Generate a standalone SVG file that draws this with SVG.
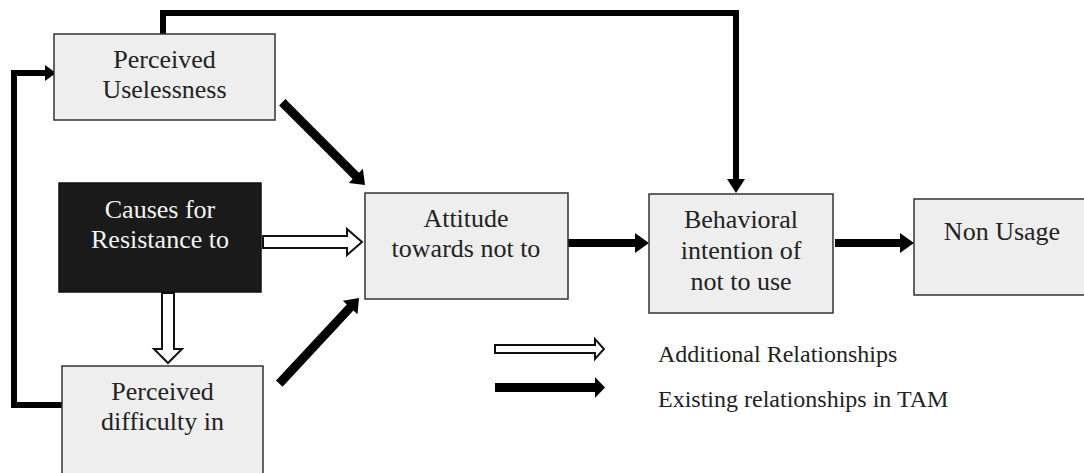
<svg xmlns="http://www.w3.org/2000/svg" width="1084" height="473" viewBox="0 0 1084 473">
<style>
.box{fill:#eeeeee;stroke:#333;stroke-width:1.5}
.dark{fill:#1a1a1a;stroke:#111;stroke-width:1.5}
text{font-family:'Liberation Serif','Times New Roman','DejaVu Serif',serif}
.t{font-size:26px;fill:#222;text-anchor:middle}
.tw{fill:#f4f4f4}
.lg{font-size:24px;fill:#222}
.line{fill:none;stroke:#000;stroke-width:6;stroke-linejoin:miter}
.solid{fill:#000;stroke:none}
.hollow{fill:#fff;stroke:#111;stroke-width:2;stroke-linejoin:miter}
</style>
<rect width="1084" height="473" fill="#fff"/>
<g id="connectors">
  <path class="line" d="M163,34 V13 H736 V180"/>
  <polygon class="solid" points="727,179 745,179 736,193"/>
  <path class="line" d="M62,405 H14 V73 H46"/>
  <polygon class="solid" points="45,65 56,73 45,81"/>
  <g transform="translate(365,185) rotate(45)"><polygon class="solid" points="-117,-4.5 -13,-4.5 -13,-10 0,0 -13,10 -13,4.5 -117,4.5"/></g>
  <g transform="translate(359,298) rotate(-47.06)"><polygon class="solid" points="-117,-4.5 -13,-4.5 -13,-10 0,0 -13,10 -13,4.5 -117,4.5"/></g>
  <polygon class="solid" points="566,239 635,239 635,233 649,243 635,253 635,247 566,247"/>
  <polygon class="solid" points="835,239 900,239 900,233 914,243 900,253 900,247 835,247"/>
  <polygon class="hollow" points="263,236 347,236 347,229 362,242 347,255 347,248 263,248"/>
  <polygon class="hollow" points="162,293 174,293 174,349 182,349 168,363 154,349 162,349"/>
  <polygon class="hollow" points="495,345 595,345 595,339 604,349 595,359 595,353 495,353"/>
  <polygon class="solid" points="495,383 595,383 595,377 605,387.5 595,398 595,392 495,392"/>
</g>
<g id="n-uselessness">
  <rect class="box" x="54" y="34" width="221" height="86"/>
  <text class="t" x="164.5" y="68" font-family="Liberation Serif">Perceived</text>
  <text class="t" x="164.5" y="98" font-family="Liberation Serif">Uselessness</text>
</g>
<g id="n-causes">
  <rect class="dark" x="59" y="183" width="202" height="109"/>
  <text class="t tw" x="160" y="218" font-family="Liberation Serif">Causes for</text>
  <text class="t tw" x="160" y="248" font-family="Liberation Serif">Resistance to</text>
</g>
<g id="n-difficulty">
  <rect class="box" x="62" y="366" width="201" height="115"/>
  <text class="t" x="162.5" y="400" font-family="Liberation Serif">Perceived</text>
  <text class="t" x="162.5" y="430" font-family="Liberation Serif">difficulty in</text>
</g>
<g id="n-attitude">
  <rect class="box" x="365" y="193" width="203" height="106"/>
  <text class="t" x="466" y="227" font-family="Liberation Serif">Attitude</text>
  <text class="t" x="466" y="257" font-family="Liberation Serif">towards not to</text>
</g>
<g id="n-intention">
  <rect class="box" x="649" y="194" width="184" height="119"/>
  <text class="t" x="741" y="228" font-family="Liberation Serif">Behavioral</text>
  <text class="t" x="741" y="259" font-family="Liberation Serif">intention of</text>
  <text class="t" x="741" y="290" font-family="Liberation Serif">not to use</text>
</g>
<g id="n-nonusage">
  <rect class="box" x="914" y="199" width="180" height="96"/>
  <text class="t" x="1002" y="240" font-family="Liberation Serif">Non Usage</text>
</g>
<g id="legend">
  <text class="lg" x="658" y="362" font-family="Liberation Serif">Additional Relationships</text>
  <text class="lg" x="658" y="407" font-family="Liberation Serif">Existing relationships in TAM</text>
</g>
</svg>
